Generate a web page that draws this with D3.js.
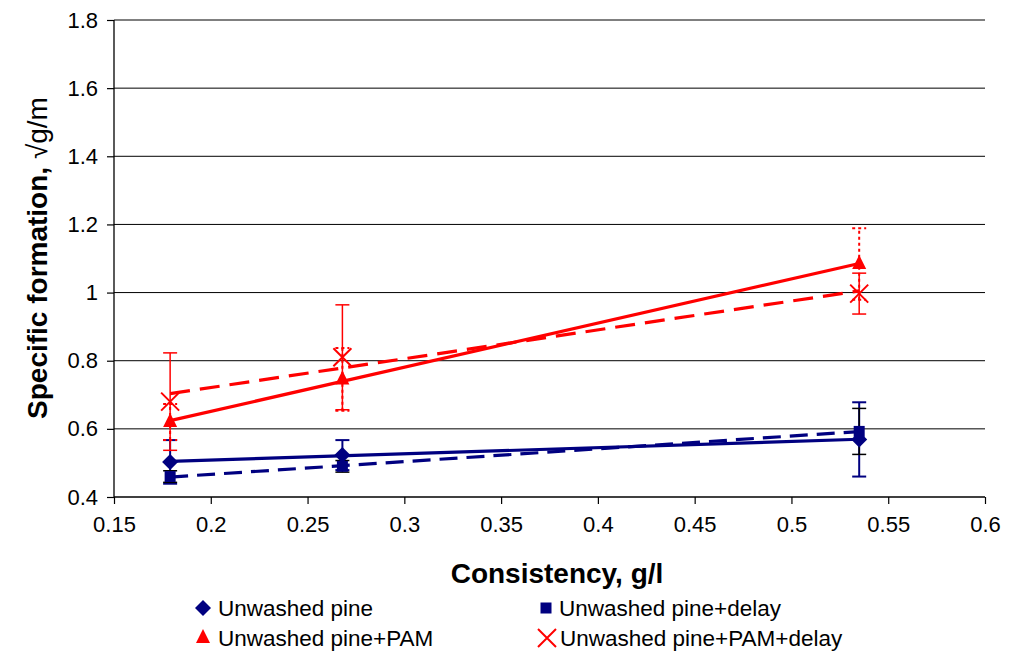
<!DOCTYPE html>
<html>
<head>
<meta charset="utf-8">
<script src="https://cdn.jsdelivr.net/npm/d3@7"></script>
<style>
  html, body { margin: 0; padding: 0; background: #fff; }
  svg { display: block; font-family: Arial, "Liberation Sans", sans-serif; }
</style>
</head>
<body>
<svg id="chart" width="1011" height="657"></svg>
<script>
// Consistency (g/l) at which each sample series was measured
const consistency = [0.179, 0.268, 0.535];

// Specific formation values and their error half-widths
const pine          = [0.503, 0.523, 0.569];
const pineErr       = [0.064, 0.044, 0.109];
const pineDelay     = [0.460, 0.490, 0.5925];
const pineDelayErr  = [0.017, 0.017, 0.0675];
const pam           = [0.620, 0.745, 1.084];
const pamErr        = [0.053, 0.092, 0.105];
const pamDelay      = [0.680, 0.810, 0.997];
const pamDelayErr   = [0.143, 0.154, 0.060];

const xTicks = [0.15, 0.2, 0.25, 0.3, 0.35, 0.4, 0.45, 0.5, 0.55, 0.6];
const yTicks = [0.4, 0.6, 0.8, 1.0, 1.2, 1.4, 1.6, 1.8];

const seriesNames = ["Unwashed pine", "Unwashed pine+delay", "Unwashed pine+PAM", "Unwashed pine+PAM+delay"];

const NAVY = "#000080", RED = "#ff0000";

const series = [
  { name: seriesNames[0], y: pine,      err: pineErr,      color: NAVY, marker: "diamond",  dash: null,    errColor: NAVY,    errDash: null, errWidth: 2 },
  { name: seriesNames[1], y: pineDelay, err: pineDelayErr, color: NAVY, marker: "square",   dash: "18,9",  errColor: "#000",  errDash: null, errWidth: 1.5 },
  { name: seriesNames[2], y: pam,       err: pamErr,       color: RED,  marker: "triangle", dash: null,    errColor: RED,     errDash: "3,3", errWidth: 2 },
  { name: seriesNames[3], y: pamDelay,  err: pamDelayErr,  color: RED,  marker: "cross",    dash: "20,10", errColor: RED,     errDash: null, errWidth: 1.5 }
];

const svg = d3.select("#chart");
const plot = { left: 114, right: 985, top: 20, bottom: 497 };

const x = d3.scaleLinear().domain([0.15, 0.6]).range([plot.left, plot.right]);
const y = d3.scaleLinear().domain([0.4, 1.8]).range([plot.bottom, plot.top]);

// Horizontal gridlines
svg.append("g")
  .selectAll("line")
  .data(yTicks.slice(1))
  .join("line")
  .attr("x1", plot.left).attr("x2", plot.right)
  .attr("y1", d => y(d)).attr("y2", d => y(d))
  .attr("stroke", "#000").attr("stroke-width", 1);

// Axes
const yAxis = d3.axisLeft(y).tickValues(yTicks).tickSize(7).tickPadding(9)
  .tickFormat(d => String(+d.toFixed(1)));
const xAxis = d3.axisBottom(x).tickValues(xTicks).tickSize(7).tickPadding(12)
  .tickFormat(d => String(+d.toFixed(2)));

const gy = svg.append("g").attr("transform", `translate(${plot.left},0)`).call(yAxis);
const gx = svg.append("g").attr("transform", `translate(0,${plot.bottom})`).call(xAxis);
[gx, gy].forEach(g => {
  g.select(".domain").attr("stroke", "#000").attr("stroke-width", 1.3);
  g.selectAll(".tick line").attr("stroke", "#000").attr("stroke-width", 1.2);
  g.selectAll(".tick text").attr("font-size", 22).attr("fill", "#000")
    .attr("font-family", "Arial, 'Liberation Sans', sans-serif");
});
gx.select(".domain").attr("d", `M${plot.left},0H${plot.right}`);
gy.select(".domain").attr("d", `M0,${plot.bottom}V${plot.top}`);

// Least-squares trend line for a series
function fit(xs, ys) {
  const mx = d3.mean(xs), my = d3.mean(ys);
  let sxx = 0, sxy = 0;
  xs.forEach((v, i) => { sxx += (v - mx) ** 2; sxy += (v - mx) * (ys[i] - my); });
  const b = sxy / sxx;
  return v => my + b * (v - mx);
}

const trendLayer = svg.append("g");
const errLayer = svg.append("g");
const markLayer = svg.append("g");

series.forEach(s => {
  const f = fit(consistency, s.y);
  const x0 = d3.min(consistency), x1 = d3.max(consistency);
  trendLayer.append("line")
    .attr("x1", x(x0)).attr("y1", y(f(x0)))
    .attr("x2", x(x1)).attr("y2", y(f(x1)))
    .attr("stroke", s.color).attr("stroke-width", 3.2)
    .attr("stroke-dasharray", s.dash);
});

// Error bars
series.forEach(s => {
  const g = errLayer.append("g")
    .attr("stroke", s.errColor).attr("stroke-width", s.errWidth)
    .attr("stroke-dasharray", s.errDash).attr("fill", "none");
  consistency.forEach((c, i) => {
    const cx = x(c), lo = y(s.y[i] - s.err[i]), hi = y(s.y[i] + s.err[i]);
    g.append("line").attr("x1", cx).attr("x2", cx).attr("y1", lo).attr("y2", hi);
    g.append("line").attr("x1", cx - 7).attr("x2", cx + 7).attr("y1", lo).attr("y2", lo);
    g.append("line").attr("x1", cx - 7).attr("x2", cx + 7).attr("y1", hi).attr("y2", hi);
  });
});

// Marker shapes
function drawMarker(g, type, cx, cy, color) {
  if (type === "diamond") {
    g.append("path").attr("d", `M${cx},${cy - 8}L${cx + 8},${cy}L${cx},${cy + 8}L${cx - 8},${cy}Z`).attr("fill", color);
  } else if (type === "square") {
    g.append("rect").attr("x", cx - 5.5).attr("y", cy - 5.5).attr("width", 11).attr("height", 11).attr("fill", color);
  } else if (type === "triangle") {
    g.append("path").attr("d", `M${cx},${cy - 9}L${cx + 7},${cy + 5}L${cx - 7},${cy + 5}Z`).attr("fill", color);
  } else {
    g.append("path").attr("d", `M${cx - 9},${cy - 9}L${cx + 9},${cy + 9}M${cx + 9},${cy - 9}L${cx - 9},${cy + 9}`)
      .attr("stroke", color).attr("stroke-width", 2).attr("fill", "none");
  }
}

series.forEach(s => {
  consistency.forEach((c, i) => drawMarker(markLayer, s.marker, x(c), y(s.y[i]), s.color));
});

// Axis titles
svg.append("text")
  .attr("x", 557).attr("y", 583)
  .attr("text-anchor", "middle")
  .attr("font-size", 28).attr("font-weight", "bold")
  .text("Consistency, g/l");

const yt = svg.append("text")
  .attr("transform", "translate(47,258) rotate(-90)")
  .attr("text-anchor", "middle")
  .attr("font-size", 28).attr("font-weight", "bold");
yt.append("tspan").text("Specific formation, ");
yt.append("tspan").attr("font-weight", "normal").text("\u221Ag/m");

// Legend
const legendPos = [[203, 608], [546, 608], [203, 638], [547, 638]];
const legend = svg.append("g");
series.forEach((s, i) => {
  const [lx, ly] = legendPos[i];
  drawMarker(legend, s.marker, lx, ly, s.color);
  legend.append("text")
    .attr("x", lx + (i % 2 === 0 ? 15 : 13)).attr("y", ly + 8)
    .attr("font-size", 22.5)
    .text(s.name);
});
</script>
</body>
</html>
